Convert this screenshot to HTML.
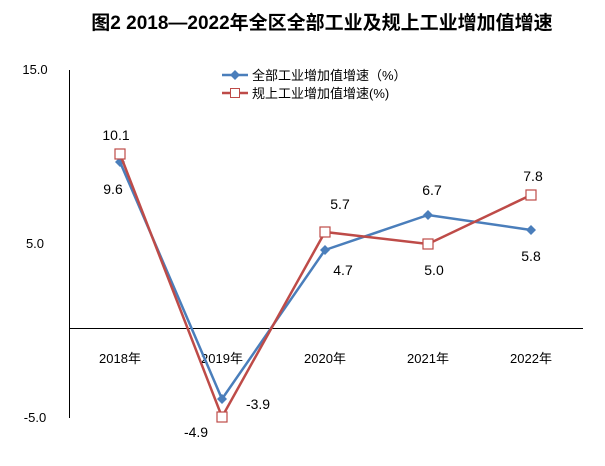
<!DOCTYPE html>
<html><head><meta charset="utf-8"><style>
body{margin:0;background:#fff;width:605px;height:461px;overflow:hidden}
</style></head><body>
<svg width="605" height="461" xmlns="http://www.w3.org/2000/svg" font-family="Liberation Sans, Noto Sans CJK SC, sans-serif">
<text x="322" y="29" text-anchor="middle" font-size="19" font-weight="bold" font-family="Liberation Sans, Noto Sans CJK SC, sans-serif">图2  2018—2022年全区全部工业及规上工业增加值增速</text>
<line x1="69.5" y1="70" x2="69.5" y2="418" stroke="#000" stroke-width="1"/>
<line x1="69" y1="328.5" x2="583" y2="328.5" stroke="#000" stroke-width="1"/>
<g font-size="13" fill="#000">
<text x="35" y="74" text-anchor="middle">15.0</text>
<text x="35" y="248" text-anchor="middle">5.0</text>
<text x="35" y="422" text-anchor="middle">-5.0</text>
<g text-anchor="middle" font-size="13">
<text x="120" y="363">2018年</text><text x="222" y="363">2019年</text><text x="325" y="363">2020年</text><text x="428" y="363">2021年</text><text x="531" y="363">2022年</text>
</g>
</g>
<polyline points="120,162 222,399 325,250 428,215 531,230" fill="none" stroke="#4a7ebb" stroke-width="2.5"/>
<g fill="#4a7ebb">
<polygon points="120,157 125,162 120,167 115,162"/><polygon points="222,394 227,399 222,404 217,399"/><polygon points="325,245 330,250 325,255 320,250"/><polygon points="428,210 433,215 428,220 423,215"/><polygon points="531,225 536,230 531,235 526,230"/>
</g>
<polyline points="120,154 222,417 325,232 428,244 531,195" fill="none" stroke="#be4b48" stroke-width="2.5"/>
<g fill="#fff" stroke="#be4b48" stroke-width="1.2">
<rect x="115" y="149" width="10" height="10"/><rect x="217" y="412" width="10" height="10"/><rect x="320" y="227" width="10" height="10"/><rect x="423" y="239" width="10" height="10"/><rect x="526" y="190" width="10" height="10"/>
</g>
<g font-size="14" text-anchor="middle" fill="#000">
<text x="116" y="140">10.1</text><text x="113" y="194">9.6</text>
<text x="196" y="437">-4.9</text><text x="258" y="409">-3.9</text>
<text x="340" y="209">5.7</text><text x="343" y="275">4.7</text>
<text x="432" y="195">6.7</text><text x="434" y="275">5.0</text>
<text x="533" y="181">7.8</text><text x="531" y="261">5.8</text>
</g>
<line x1="222" y1="75" x2="248" y2="75" stroke="#4a7ebb" stroke-width="2.5"/>
<polygon points="235,70 240,75 235,80 230,75" fill="#4a7ebb"/>
<text x="252" y="80" font-size="13">全部工业增加值增速（%）</text>
<line x1="222" y1="93" x2="248" y2="93" stroke="#be4b48" stroke-width="2.5"/>
<rect x="230.5" y="88.5" width="9" height="9" fill="#fff" stroke="#be4b48"/>
<text x="252" y="98" font-size="13">规上工业增加值增速(%)</text>
</svg>
</body></html>
